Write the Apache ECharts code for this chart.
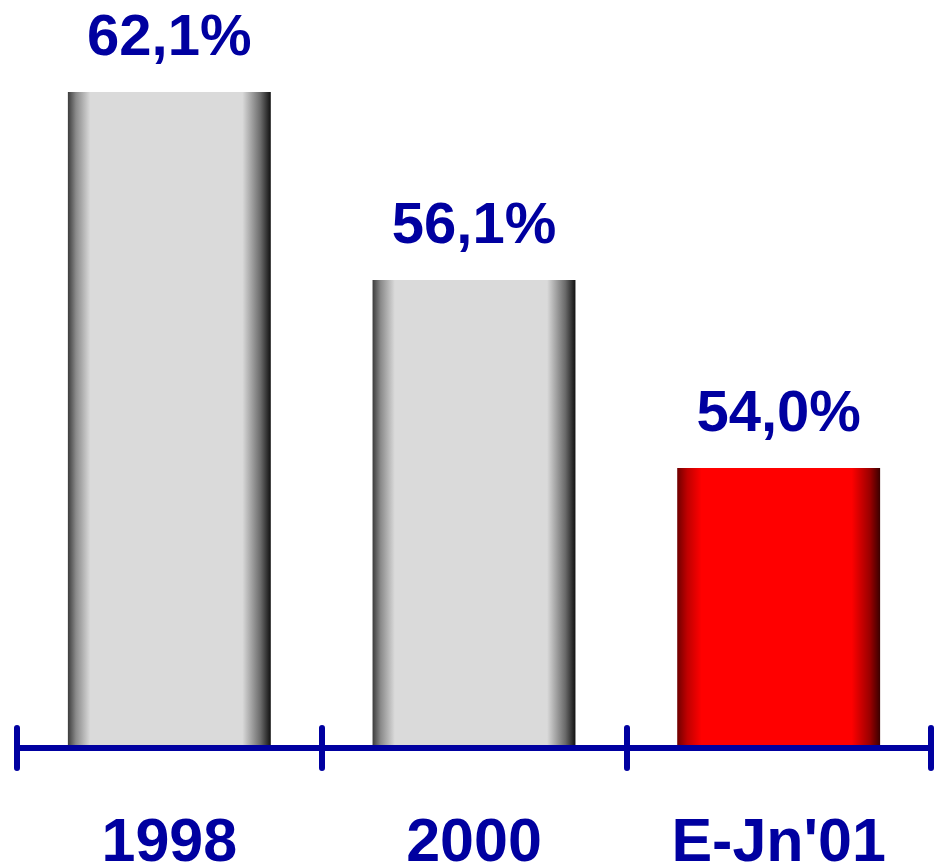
<!DOCTYPE html>
<html>
<head>
<meta charset="utf-8">
<script src="https://cdn.jsdelivr.net/npm/echarts@6/dist/echarts.min.js"></script>
<style>
html,body{margin:0;padding:0;background:#fff;}
#chart{width:935px;height:867px;}
</style>
</head>
<body>
<div id="chart"></div>
<script>
// Categories on the x axis
var categories = ['1998', '2000', "E-Jn'01"];
// Values printed above the bars
var labelValues = [62.1, 56.1, 54.0];
// Bar heights as drawn in the picture (on the chart's own value scale)
var barHeights = [62.1, 56.1, 50.1];
// Which bar is highlighted
var highlighted = [false, false, true];

var navy = '#0000A0';

function greyGrad() {
  return new echarts.graphic.LinearGradient(0, 0, 1, 0, [
    {offset: 0, color: '#3c3c3c'},
    {offset: 0.04, color: '#8a8a8a'},
    {offset: 0.11, color: '#dadada'},
    {offset: 0.86, color: '#dadada'},
    {offset: 0.95, color: '#6a6a6a'},
    {offset: 1, color: '#111111'}
  ]);
}
function redGrad() {
  return new echarts.graphic.LinearGradient(0, 0, 1, 0, [
    {offset: 0, color: '#700000'},
    {offset: 0.05, color: '#c00000'},
    {offset: 0.12, color: '#ff0000'},
    {offset: 0.86, color: '#ff0000'},
    {offset: 0.95, color: '#9a0000'},
    {offset: 1, color: '#3a0000'}
  ]);
}

var data = barHeights.map(function (v, i) {
  return {
    value: v,
    itemStyle: {color: highlighted[i] ? redGrad() : greyGrad()},
    label: {formatter: labelValues[i].toFixed(1).replace('.', ',') + '%'}
  };
});

var chart = echarts.init(document.getElementById('chart'), null, {renderer: 'canvas'});
chart.setOption({
  animation: false,
  backgroundColor: '#ffffff',
  grid: {left: 17, right: 4, top: 92, bottom: 119, containLabel: false, outerBoundsMode: 'none'},
  xAxis: [{
    type: 'category',
    data: categories,
    boundaryGap: true,
    axisLine: {show: true, lineStyle: {color: navy, width: 6, cap: 'round'}},
    axisTick: {show: true, length: 20, inside: false, lineStyle: {color: navy, width: 6, cap: 'round'}},
    axisLabel: {
      color: navy, fontFamily: 'Liberation Sans, Arial, sans-serif',
      fontWeight: 'bold', fontSize: 61, margin: 66
    },
    z: 5
  }, {
    type: 'category',
    data: categories,
    position: 'bottom',
    offset: 0,
    boundaryGap: true,
    axisLine: {show: false},
    axisTick: {show: true, length: 20, inside: true, lineStyle: {color: navy, width: 6, cap: 'round'}},
    axisLabel: {show: false},
    z: 5
  }],
  yAxis: {
    type: 'value',
    min: 41.16,
    max: 62.1,
    show: false,
    splitLine: {show: false}
  },
  series: [{
    type: 'bar',
    xAxisIndex: 0,
    data: data,
    barWidth: '66.6%',
    label: {
      show: true,
      position: 'top',
      distance: 24,
      color: navy,
      fontFamily: 'Liberation Sans, Arial, sans-serif',
      fontWeight: 'bold',
      fontSize: 58
    }
  }]
});
</script>
</body>
</html>
